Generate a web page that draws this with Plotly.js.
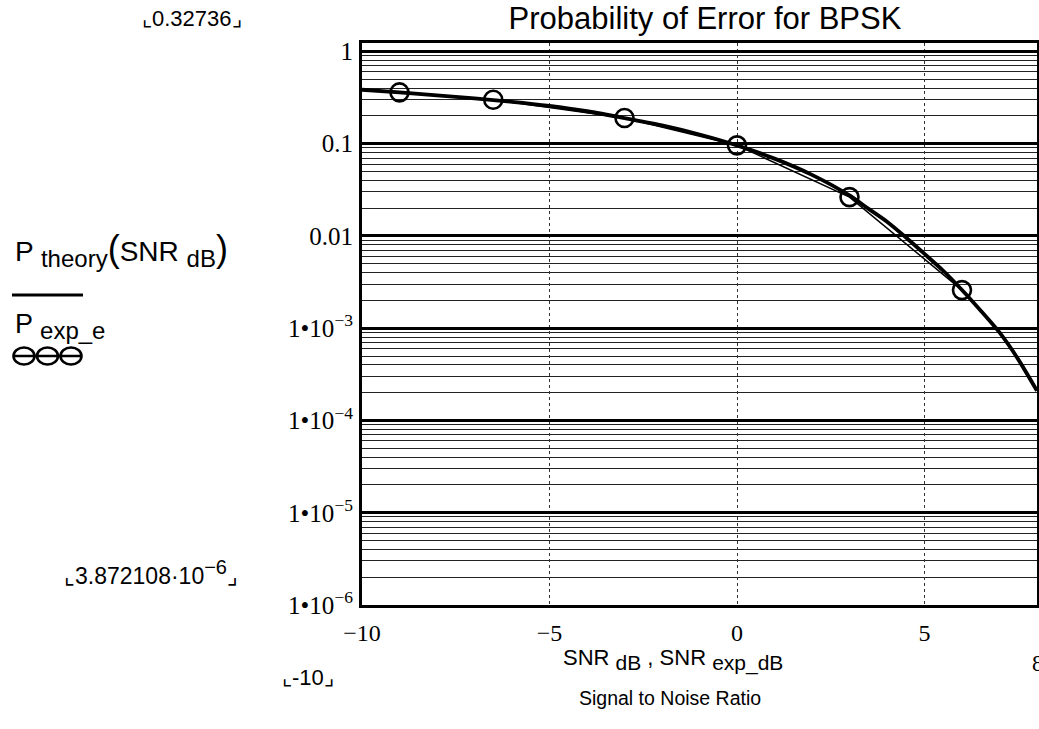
<!DOCTYPE html>
<html>
<head>
<meta charset="utf-8">
<script src="https://cdn.plot.ly/plotly-3.0.1.min.js"></script>
<style>
html,body{margin:0;padding:0;background:#fff;}
#chart{width:1039px;height:729px;}
</style>
</head>
<body>
<div id="chart"></div>
<script>
// Theoretical curve P_theory(SNR_dB)
var snrTheory = [-10, -9, -8, -7, -6, -5, -4, -3, -2, -1, 0, 1, 2, 3, 3.5, 4, 4.5, 5, 5.5, 6, 6.5, 7, 7.5, 8];
var pTheory = [0.385, 0.36, 0.335, 0.31, 0.285, 0.257, 0.225, 0.19, 0.158, 0.126, 0.096, 0.069, 0.046, 0.0275, 0.0198, 0.0143, 0.0097, 0.0064, 0.0042, 0.0026, 0.00155, 0.0009, 0.00046, 0.00021];

// Experimental points P_exp_e(SNR_exp_dB)
var snrExp = [-9, -6.5, -3, 0, 3, 6];
var pExp = [0.36, 0.30, 0.19, 0.096, 0.0264, 0.00259];

// Tick labels
var yTickVals = [1, 0.1, 0.01, 0.001, 1e-4, 1e-5, 1e-6];
var yTickText = ["1", "0.1", "0.01", "1\u202210<sup>\u22123</sup>", "1\u202210<sup>\u22124</sup>", "1\u202210<sup>\u22125</sup>", "1\u202210<sup>\u22126</sup>"];
var xTickVals = [-10, -5, 0, 5];
var xTickText = ["\u221210", "\u22125", "0", "5"];

var L = 362, R = 2, T = 43, B = 124, W = 1039, H = 729;
var pw = W - L - R, ph = H - T - B;
function px(x){ return (x - L) / pw; }
function py(y){ return (H - B - y) / ph; }

var serif = "Liberation Serif, Times New Roman, serif";
var sans = "Liberation Sans, Arial, sans-serif";

var traces = [
  {
    x: snrTheory, y: pTheory, type: 'scatter', mode: 'lines',
    line: {color: '#000', width: 3.8, shape: 'spline', smoothing: 0.6},
    hoverinfo: 'skip', showlegend: false
  },
  {
    x: snrExp, y: pExp, type: 'scatter', mode: 'lines+markers',
    line: {color: '#000', width: 1.5},
    marker: {symbol: 'circle-open', size: 18, color: '#000', line: {color: '#000', width: 2.6}},
    hoverinfo: 'skip', showlegend: false
  }
];

// legend sample shapes (left side, outside plot)
var cy = 356;
var shapes = [
  {type: 'line', xref: 'paper', yref: 'paper', x0: px(12), x1: px(83), y0: py(295), y1: py(295), line: {color: '#000', width: 3}},
  {type: 'line', xref: 'paper', yref: 'paper', x0: px(13), x1: px(82), y0: py(cy), y1: py(cy), line: {color: '#000', width: 2.5}}
];
[24, 47.5, 71].forEach(function(cx){
  var rx = 10.5, ry = 8.5;
  shapes.push({type: 'circle', xref: 'paper', yref: 'paper', x0: px(cx - rx), x1: px(cx + rx), y0: py(cy + ry), y1: py(cy - ry), line: {color: '#000', width: 2.6}});
});

function subs(t, s){ return "<sub><span style='font-size:" + s + "px'>" + t + "</span></sub>"; }

var annotations = [
  {text: "\u231e0.32736\u231f", xref: 'paper', yref: 'paper', x: px(192), y: py(18), xanchor: 'center', yanchor: 'middle', showarrow: false, font: {family: sans, size: 22, color: '#000'}},
  {text: "\u231e3.872108\u00b710<sup><span style='font-size:20px'>\u22126</span></sup>\u231f", xref: 'paper', yref: 'paper', x: px(151), y: py(572), xanchor: 'center', yanchor: 'middle', showarrow: false, font: {family: sans, size: 23, color: '#000'}},
  {text: "\u231e-10\u231f", xref: 'paper', yref: 'paper', x: px(308), y: py(677), xanchor: 'center', yanchor: 'middle', showarrow: false, font: {family: sans, size: 22, color: '#000'}},
  {text: "8", xref: 'paper', yref: 'paper', x: px(1030), y: py(663), xanchor: 'left', yanchor: 'middle', showarrow: false, font: {family: serif, size: 23, color: '#000'}},
  {text: "SNR " + subs("dB", 21) + " , SNR " + subs("exp_dB", 21), xref: 'paper', yref: 'paper', x: px(673), y: py(660), xanchor: 'center', yanchor: 'middle', showarrow: false, font: {family: sans, size: 22, color: '#000'}},
  {text: "Signal to Noise Ratio", xref: 'paper', yref: 'paper', x: px(670), y: py(698), xanchor: 'center', yanchor: 'middle', showarrow: false, font: {family: sans, size: 19.5, color: '#000'}},
  {text: "P " + subs("theory", 24) + "<span style='font-size:36px'>(</span>SNR " + subs("dB", 24) + "<span style='font-size:36px'>)</span>", xref: 'paper', yref: 'paper', x: px(13), y: py(250), xanchor: 'left', yanchor: 'middle', showarrow: false, font: {family: sans, size: 28, color: '#000'}},
  {text: "P " + subs("exp_e", 24), xref: 'paper', yref: 'paper', x: px(13), y: py(327), xanchor: 'left', yanchor: 'middle', showarrow: false, font: {family: sans, size: 27, color: '#000'}}
];

var layout = {
  width: W, height: H,
  margin: {l: L, r: R, t: T, b: B, pad: 0},
  paper_bgcolor: '#fff', plot_bgcolor: '#fff',
  title: {text: "Probability of Error for BPSK", font: {family: sans, size: 31, color: '#000'}, x: px(705), xref: 'paper', xanchor: 'center', y: 1 - 18 / H, yref: 'container', yanchor: 'middle'},
  xaxis: {
    range: [-10, 8], tickvals: xTickVals, ticktext: xTickText,
    showgrid: true, gridcolor: '#333', gridwidth: 1, griddash: 'dot',
    zeroline: false, showline: true, mirror: true, linecolor: '#000', linewidth: 3,
    ticks: '', ticklabelstandoff: 4,
    tickfont: {family: serif, size: 24, color: '#000'}
  },
  yaxis: {
    type: 'log', range: [-6, 0.092], tickvals: yTickVals, ticktext: yTickText,
    showgrid: true, gridcolor: '#000', gridwidth: 3,
    minor: {dtick: 'D1', showgrid: true, gridcolor: '#222', gridwidth: 1, ticks: ''},
    zeroline: false, showline: true, mirror: true, linecolor: '#000', linewidth: 3,
    ticks: '', ticklabelstandoff: 1,
    tickfont: {family: serif, size: 25, color: '#000'}
  },
  shapes: shapes,
  annotations: annotations,
  showlegend: false
};

Plotly.newPlot('chart', traces, layout, {displayModeBar: false, staticPlot: true});
</script>
</body>
</html>
